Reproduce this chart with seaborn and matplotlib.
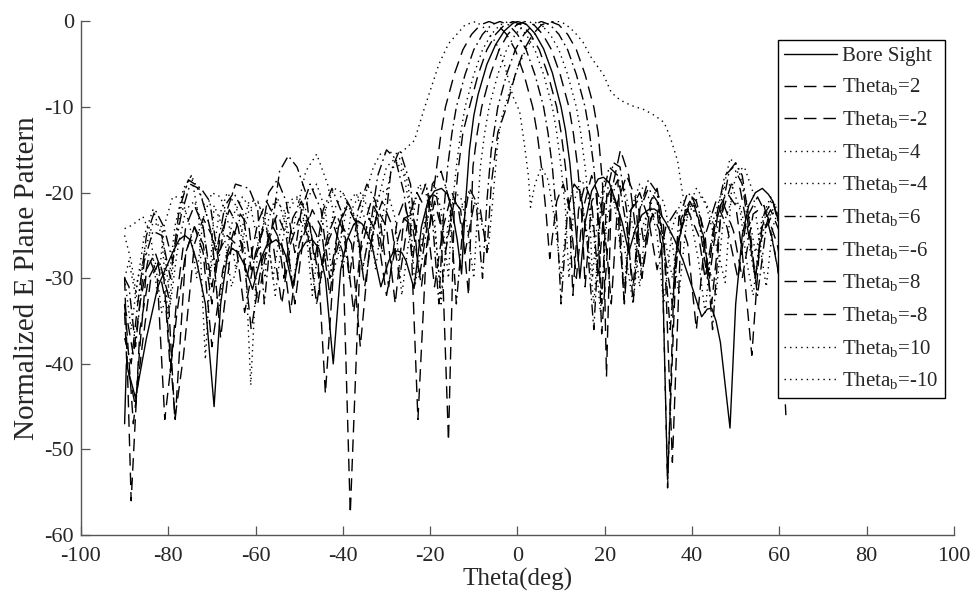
import matplotlib
matplotlib.use("Agg")
import matplotlib.pyplot as plt
import seaborn as sns

# ---------------- data ----------------
theta_bs = [-90,-89.6,-87.5,-85,-82.4,-79,-77.5,-76.2,-75,-73.5,-71.5,-69.5,-68,-66.5,-65.4,-64,-62.5,-60.7,-59,-57.5,
            -55.3,-54,-53,-51.5,-50,-48.5,-47,-45.5,-44,-42.2,-40.5,-39,-37.5,-36.5,-35.5,-33.5,-31.3,-29.5,-28.5,-27.5,
            -26.5,-25.5,-23.7,-22,-20.5,-19,-17.4,-16,-15,-13.8,-12.8,-12,-11,-10,-9,-7,-5,-3,-1,0,
            2,4,6,8,10,11,12,13,14.3,15.5,17,18.5,19.7,21,22.5,24,25.5,27,28.5,30,
            31.3,32.5,34,36,38,40,42.2,43.5,44.5,45.5,46.5,48.7,50,51.5,53,54.5,56.1,57.5,58.5,60.5]
db_bs = [-47,-40,-44,-37,-31,-27,-25.5,-25,-25.5,-28,-33,-45,-33,-27.5,-26.5,-27,-28.5,-31.3,-28,-26.2,
         -25.5,-26.2,-27.5,-31,-27,-25.8,-25.5,-26.5,-30,-40,-29,-25.5,-23.7,-23.3,-23.7,-25.8,-31,-28,-27,-26.8,
         -27,-28,-31.2,-24,-21,-19.8,-19.5,-20.2,-22,-25.5,-29.5,-22,-15,-11,-8.5,-5,-2.7,-1.1,-0.2,0,
         -0.3,-1.4,-3.2,-6,-10,-12.7,-16.5,-22,-30,-23.5,-19.8,-18.4,-18.2,-18.8,-21,-23.5,-27,-24.3,-22.6,-22,
         -21.9,-22.3,-23.5,-25.5,-28,-31,-34.5,-33.6,-33.5,-35,-37.5,-47.5,-33,-25,-21.5,-20,-19.5,-20.2,-21,-24.5]

theta_p2 = [-90,-89.5,-88.5,-86.5,-84.5,-82.5,-80.5,-78.4,-76,-74,-72,-70,-67.5,-65,-63,-61,-58.5,-56,-54,-52,
            -50,-48,-46,-44,-42,-40,-38,-36,-34,-32,-30,-28,-26,-24,-22,-20,-18.5,-16.5,-14.5,-13,
            -11.2,-10.2,-9.2,-8.2,-6.2,-4.2,-2.2,-0.2,1.8,3.8,5.8,7.8,9.8,11.8,12.8,13.8,14.8,15.5,17,18.2,
            19.3,21.5,23,24.4,26,27.5,29,31,33,34.4,36.5,39,41.5,43,45,47,49.5,51.5,54,56.5,59,61]
db_p2 = [-30,-38,-56,-36,-30,-28,-33,-46.5,-27,-24,-27,-38,-29,-24.5,-26,-36,-28,-24,-26,-34,
         -26,-23,-25,-43.5,-28,-24,-26,-38,-27,-22,-24,-33,-23,-22.5,-27,-20,-20.5,-27,-21,-22,
         -32,-17,-13,-10,-6.2,-3.3,-1.5,-0.4,0,-0.4,-1.5,-3.3,-6.2,-10,-13,-17,-23,-31,-21,-20,
         -36.5,-20,-18.5,-32.5,-22,-21,-26,-22.5,-25,-53.5,-26,-22,-25,-30,-24,-21,-24.5,-30,-22.5,-21.5,-27,-33]

theta_m2 = [-90,-88,-86.5,-84.5,-82.5,-80.8,-78,-76,-74,-72,-70,-68.5,-66.5,-64.5,-62.5,-60,-58,-56,-54,-52,
            -50,-48,-46,-44,-42,-40,-38.3,-36,-34,-32,-30,-28,-26,-24,-22,-20.5,-19,-17.5,-15.8,-14.5,
            -13.5,-12.5,-11,-9,-7,-5,-3,-1,1,3,5,7,9,10,11,12,12.7,14,15.5,17,
            18.5,20,21.5,23,24.5,26,28,30,32,34,36.5,39,41,43,45.5,48,50.5,52.5,55,57.5,60,61.5]
db_m2 = [-33,-39,-33,-27.5,-30,-46.5,-34,-27,-24,-26,-33,-27,-25,-26,-34,-27,-24,-26,-33,-26,
         -23,-25,-33,-26.5,-24,-27,-57.5,-27,-23,-25,-32,-26.5,-23,-24,-31,-25,-21,-24,-49,-22,
         -17,-13,-10,-6.2,-3.3,-1.5,-0.4,0,-0.4,-1.5,-3.3,-6.2,-10,-13,-17,-23,-32,-22,-19,-21,
         -30,-21,-19.5,-22,-33,-22,-20,-23,-29,-24,-22,-26,-36,-25,-21,-24,-30,-23,-20.5,-23,-30,-46]

theta_p4 = [-90,-89,-87.5,-85.5,-83.5,-81.5,-80,-78.5,-76.5,-74.7,-73,-71.5,-69.5,-67.5,-65.5,-63.5,-61.5,-59.5,-57.5,-55.5,
            -54,-52,-50,-48,-46,-44,-42,-40,-37.5,-35.5,-34,-32,-30,-28,-26.5,-25,-23,-21,-19,-17.5,
            -16,-14.5,-13,-11.5,-10,-9,-8.5,-7.5,-6.5,-4.5,-2.5,-0.5,1.5,3.5,5.5,7.5,9.5,11.5,13.5,14.5,
            15.5,16.5,17.2,18.5,20,21.5,23,24.5,26,28,30,32,33.5,35.5,37.5,39.5,41.5,43,45,47,
            49,51,52.5,54,56,58,60.5]
db_p4 = [-30,-28,-32,-25,-22,-25,-35,-26,-20,-18,-23,-39.5,-21.5,-24,-31,-27,-22,-21,-24,-32,
         -26,-21.5,-20.5,-24,-33,-27,-22,-20,-23,-29,-25,-20.5,-19.5,-23,-32,-26,-20,-19,-23,-33,
         -24,-20,-20.5,-24,-30,-21,-17,-13,-10,-6.2,-3.3,-1.5,-0.4,0,-0.4,-1.5,-3.3,-6.2,-10,-13,
         -17,-22,-30,-22,-18.5,-19,-24,-31,-22,-19,-20.5,-25,-33,-24,-21,-22.5,-28,-34,-23,-19.5,
         -19,-22,-28,-32,-23,-20.5,-23]

theta_m4 = [-90,-88.5,-87,-85.5,-83.5,-81.5,-79.5,-78,-76,-74,-72,-70.5,-68.5,-66.5,-64.5,-62.5,-61.1,-59.5,-57.5,-55.5,
            -53.5,-52,-50.5,-48.5,-46,-43.5,-41.5,-40,-38,-36,-34,-32.5,-31,-29,-27,-25,-23.5,-22,-20.5,-19,
            -17.5,-15.8,-15,-14,-13,-12,-10,-8,-6,-4,-2,0,2,4,6,8,9,10,11,11.8,
            13,14.5,16,17.5,19,20.5,22.5,24.5,26.5,28,29.5,31.5,33.5,35.5,37,39,41,43,45,47.6,
            49,50.5,52,54,55.5,57,58.5,60.5]
db_m4 = [-25,-28,-33,-27,-23.5,-24,-33,-27,-22,-21,-24,-30,-23,-20,-21.5,-26,-42.5,-26,-22.5,-21,
         -22,-26,-22,-17.5,-15.5,-19,-24,-29,-22,-20,-22,-29,-23,-17.5,-16,-19,-31,-26,-20.5,-19,
         -22,-30,-22,-17,-13,-10,-6.2,-3.3,-1.5,-0.4,0,-0.4,-1.5,-3.3,-6.2,-10,-13,-17,-22,-30,
         -21,-18.5,-19.5,-25,-34,-23,-19,-19.5,-24,-31,-23,-20,-21,-26,-32,-22,-19.5,-21,-25,-30.5,
         -20,-17.5,-17,-20,-26,-31,-24,-21]

theta_p6 = [-90,-89,-87.5,-85.5,-83.5,-81.5,-79.5,-77.5,-75.4,-72.5,-70.5,-68.5,-66.5,-64.6,-61.5,-59.5,-58,-56.5,-54.5,-52.5,
            -50.5,-48.5,-46.5,-44.5,-42.5,-40.5,-38.5,-36.5,-34.5,-32.5,-31,-29,-27,-24.5,-22.5,-21,-19.5,-17.5,-15.5,-14,
            -12.5,-11,-9.5,-8,-7,-6,-4.5,-2.5,-0.5,1.5,3.5,5.5,7.5,9.5,11.5,13.5,15.5,16.5,17.5,18.5,
            19.3,20.5,22,23.5,25,26.5,28,30,32,33.5,35,37,39,41,43,44.7,46.5,48.5,50,51.5,
            53,54.5,56.5,58.5,60.5]
db_p6 = [-30,-31,-38,-28,-24.5,-25,-30,-22,-18.5,-19.5,-21,-28,-22,-19,-19.5,-22,-33,-25,-17.5,-15.7,
         -17,-20,-28,-22,-19.5,-22,-30,-22,-19,-21,-27,-17.5,-15,-19,-30,-25,-19,-17.5,-21,-33,
         -24,-19.5,-21,-30,-21,-15,-10,-6.2,-3.3,-1.5,-0.4,0,-0.4,-1.5,-3.3,-6.2,-10,-13,-17,-23,
         -33,-20,-16.5,-17,-22,-33,-22,-18.5,-20,-26,-36,-23,-20,-21,-25,-36,-23,-17.5,-16.5,-18,
         -23,-30,-22.5,-21,-25]

theta_m6 = [-90,-88.5,-87,-85,-83,-81,-79,-77,-75,-73,-71,-69,-67,-65,-63,-61,-59,-57,-55,-53,
            -51,-49.5,-47.5,-45,-43,-41,-39,-37,-35.5,-34,-32,-30,-28,-26,-24,-22.5,-21,-19.5,-18,-17,
            -16,-15,-14,-12,-10,-8,-6,-4,-2,0,2,4,6,7,8,9,10,11.5,13,14.5,
            16,17.5,19,21,23,25,26.5,28,30,32,34,35.5,37.5,39.5,41.5,43.5,45.5,47.5,49.5,51.5,
            53.5,55,57,59,60.5]
db_m6 = [-37,-40,-33,-25,-22,-24,-28,-22.5,-19,-19.5,-23,-27,-21.5,-20,-22,-29,-26,-20,-18.5,-21,
         -27,-22,-19,-22,-30,-24,-21,-23,-29,-25,-18,-15,-16,-20,-28,-21,-19,-23,-33,-23,
         -17,-13,-10,-6.2,-3.3,-1.5,-0.4,0,-0.4,-1.5,-3.3,-6.2,-10,-13,-17,-23,-33,-22,-19,-20,
         -26,-36,-22,-17,-18,-24,-31,-22,-19.5,-21,-28,-33,-23,-21,-23,-30,-23,-18,-17,-19,
         -26,-32,-24,-22,-24]

theta_p8 = [-90,-89.5,-88,-86,-84,-82,-80,-78.5,-76.5,-74,-72,-70,-68,-65.5,-63.5,-61.5,-59.5,-57,-55,-53,
            -51,-49,-47,-45,-43,-41,-39,-37,-35,-33,-31,-29,-27,-25,-23,-21,-19,-17,-15,-13.5,
            -12,-10,-8.5,-7,-6,-4.5,-2.5,-0.5,1.5,3.5,5.5,7.5,9.5,11.5,13.5,15.5,17.5,18.5,19.5,20.4,
            21.5,23.6,25.5,27,28.5,30.5,32,33.5,35.5,37.5,40,42,44,46,48,50,51.5,53.7,55.5,57.5,
            59.5,61]
db_p8 = [-33,-36,-47,-38,-30,-28,-32,-46.5,-39,-26,-23,-25,-37,-26,-22.5,-24,-33,-25,-22.5,-25,
         -33,-25,-22,-24,-32,-24,-21.5,-23.5,-31,-24,-21,-23.5,-30,-23,-20,-22,-31,-24,-20,-22,
         -27,-21.5,-22,-27,-19,-13,-10,-6.2,-3.3,-1.5,-0.4,0,-0.4,-1.5,-3.3,-6.2,-10,-13,-19,-41.5,
         -20,-15,-18,-24,-30,-21,-19.5,-24,-51.5,-24,-20.5,-23,-30,-22,-20,-21.5,-27,-39,-26,-23,
         -26,-30]

theta_m8 = [-90,-89.5,-87.5,-86.5,-85,-83,-81,-79.5,-78,-76,-74,-72,-70,-68,-66,-64,-62,-59.5,-57.5,-55.5,
            -53.5,-51.5,-49.5,-47.5,-45.5,-43.5,-41.5,-39.5,-37.5,-35.5,-33.5,-31.5,-29.5,-27.5,-26,-24.5,-22.8,-21,-19.5,-18.5,
            -17.5,-16.5,-14.5,-12.5,-10.5,-8.5,-6.5,-4.5,-2.5,-0.5,1.5,3.5,4.5,5.5,6.5,7.4,9,10.5,12,13.5,
            15,17,19,20.5,21.5,23,25,27,28.5,30.5,32,33.2,34.4,36,38.5,40.5,42.5,44.5,46.5,49,
            51,53,54.5,56,58,60]
db_m8 = [-34,-40,-45,-38,-29,-27,-30,-41,-32,-24,-21.5,-24,-31,-25,-22,-24,-30,-23.5,-21,-23,
         -30,-23,-21,-24,-30,-25,-22.5,-25,-34,-24.5,-21,-23,-31,-23,-21,-24,-46.5,-28,-21,-17,
         -13,-10,-6.2,-3.3,-1.5,-0.4,0,-0.4,-1.5,-3.3,-6.2,-10,-13,-17,-22,-27.7,-21,-19,-22,-30,
         -22,-18,-21,-27,-33,-21,-18,-20.5,-30,-23,-22,-28,-54.5,-28,-22,-21.5,-25,-33,-23,-19,
         -19.5,-25,-30,-24,-22,-24.5]

theta_p10 = [-90,-88.5,-87,-85,-83,-81.5,-80,-78.5,-76.5,-74.7,-72,-70,-68.5,-67,-65,-63,-61,-59,-57.8,-57,
             -55,-53,-51.5,-50,-48,-46,-44,-42.5,-41,-39,-37,-35,-33.5,-32,-30,-28,-26,-24.4,-22.5,-21,
             -19,-17.5,-16,-14.5,-13,-11,-9,-6.7,-5.5,-4.5,-3.5,-2,0,2,4,6,8,9.5,11,13,
             15,17,19.7,21.5,23.6,26,29,31.5,33.6,35,36.7,37.8,39,40.5,42,44,45.5,47,48.7,50.5,
             52.5,54.5,56,58,60.5]
db_p10 = [-30,-36,-30,-27,-28,-34,-31,-24,-19.5,-18,-21,-25,-34,-28,-22.5,-20.5,-22,-27,-30,-23,
          -20.5,-24,-31,-26,-20.5,-19,-22,-30,-27,-21.5,-20,-23,-27,-21,-17,-16,-18,-22.5,-19,-20,
          -24,-32,-25,-21,-22,-20,-22,-26.7,-20,-14,-11,-8.5,-5.5,-3.2,-1.5,-0.5,0,0,-0.3,-1.2,
          -2.4,-4.3,-6.2,-8.3,-9.2,-9.8,-10.3,-11,-11.8,-13.5,-16.3,-20,-23,-21,-20.5,-22,-25,-20,-16,-17,
          -21,-27,-24,-21,-22]

theta_m10 = [-90,-89,-87.5,-85.8,-84,-82.5,-81,-79,-77,-75,-73.5,-72,-70,-68,-66,-64.5,-63,-61.5,-59.5,-57.5,
             -56,-54.5,-52.5,-50.5,-48.5,-47,-45.5,-44,-42,-40,-38,-36.5,-35,-33,-31.3,-29,-27,-23.6,-21.3,-18,
             -15.8,-12,-9.5,-7.5,-5,-3,-1,0.5,1.5,2.5,3,4,5.5,7,8.5,10,11.5,13,14.5,16,
             17.5,19,21,23,25,26.5,28,30,32,34,35.5,37.5,39.5,41.5,43.5,45.5,47,49,51,53,
             54.5,56.5,58.5,60.5]
db_m10 = [-24.2,-24,-23.5,-22.8,-25,-32,-24,-20.5,-20.5,-24,-30,-23,-20,-20.5,-24,-29,-24,-21,-21,-24,
          -30,-25,-21,-20.5,-24,-32,-26,-22,-19.5,-20,-22,-24,-20.5,-17,-15.4,-15.3,-15.5,-13.9,-10.1,-5,
          -2.6,-0.4,0,-0.8,-2.4,-5,-8.8,-10.5,-14,-18,-21.7,-19,-17,-18.5,-23,-30,-22,-19,-20,-25,
          -33,-23,-20,-21.5,-28,-33,-25,-22,-22.5,-26,-30,-24,-21.5,-23,-28,-32,-24,-21,-21.5,-26,
          -30,-24,-22,-23]

labels = ["Bore Sight", "Theta$_\\mathregular{b}$=2", "Theta$_\\mathregular{b}$=-2",
          "Theta$_\\mathregular{b}$=4", "Theta$_\\mathregular{b}$=-4", "Theta$_\\mathregular{b}$=6",
          "Theta$_\\mathregular{b}$=-6", "Theta$_\\mathregular{b}$=8", "Theta$_\\mathregular{b}$=-8",
          "Theta$_\\mathregular{b}$=10", "Theta$_\\mathregular{b}$=-10"]
x_ticks = [-100, -80, -60, -40, -20, 0, 20, 40, 60, 80, 100]
y_ticks = [-60, -50, -40, -30, -20, -10, 0]

# ---------------- styling ----------------
sns.set_style("ticks")
plt.rcParams["font.family"] = ["Liberation Serif", "DejaVu Serif"]
plt.rcParams["mathtext.fontset"] = "custom"
plt.rcParams["mathtext.rm"] = "Liberation Serif"
plt.rcParams["axes.unicode_minus"] = False

SOLID = "-"
DASH = (0, (9, 5))
DOT = (0, (1, 3))
DASHDOT = (0, (8, 3, 1.2, 3))

series = [
    (theta_bs, db_bs, SOLID), (theta_p2, db_p2, DASH), (theta_m2, db_m2, DASH),
    (theta_p4, db_p4, DOT), (theta_m4, db_m4, DOT), (theta_p6, db_p6, DASHDOT),
    (theta_m6, db_m6, DASHDOT), (theta_p8, db_p8, DASH), (theta_m8, db_m8, DASH),
    (theta_p10, db_p10, DOT), (theta_m10, db_m10, DOT),
]

fig = plt.figure(figsize=(9.72, 6.02), dpi=100)
ax = fig.add_axes([0.0833, 0.1113, 0.8981, 0.853])

handles = []
for (th, db, ls), lab in zip(series, labels):
    assert len(th) == len(db), (lab, len(th), len(db))
    sns.lineplot(x=th, y=db, ax=ax, color="black", linewidth=1.0, sort=False,
                 estimator=None, legend=False)
    line = ax.lines[-1]
    line.set_linestyle(ls)
    line.set_label(lab)
    handles.append(line)

ax.set_xlim(-100, 100)
ax.set_ylim(-60, 0)
ax.set_xticks(x_ticks)
ax.set_yticks(y_ticks)
ax.tick_params(direction="in", length=6.3, width=0.9, color="#555555",
               labelsize=16, labelcolor="#262626")
ax.tick_params(axis="x", pad=9)
ax.tick_params(axis="y", pad=5)
for side in ["top", "right"]:
    ax.spines[side].set_visible(False)
for side in ["left", "bottom"]:
    ax.spines[side].set_color("#555555")
    ax.spines[side].set_linewidth(1.0)

ax.set_xlabel("Theta(deg)", fontsize=18, color="#262626", labelpad=1)
ax.set_ylabel("Normalized E Plane Pattern", fontsize=21, color="#262626", labelpad=3)

leg = ax.legend(handles=handles, labels=labels, loc="upper right",
                bbox_to_anchor=(0.9897, 0.964), fontsize=15, frameon=True,
                fancybox=False, framealpha=1, edgecolor="black", handlelength=2.55,
                handletextpad=0.25, labelspacing=0.53, borderpad=0.3, borderaxespad=0)
leg.get_frame().set_linewidth(1.0)

fig.savefig("out.png", dpi=100)
